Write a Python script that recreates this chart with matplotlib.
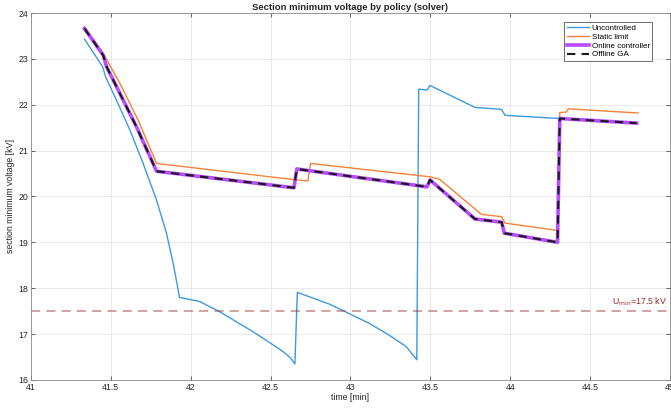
import numpy as np
import matplotlib.pyplot as plt

plt.rcParams['font.family'] = ['Liberation Sans', 'DejaVu Sans']

# Uncontrolled
t_unc = [41.335, 41.448, 41.467, 41.535, 41.619, 41.702, 41.786, 41.848, 41.89,
         41.93, 42.056, 42.18, 42.39, 42.47, 42.577, 42.625, 42.652, 42.667,
         42.87, 42.99, 43.12, 43.24, 43.348, 43.415, 43.427, 43.479, 43.498,
         43.78, 43.946, 43.967, 44.306, 44.8]
v_unc = [23.43, 22.83, 22.61, 22.10, 21.45, 20.72, 19.92, 19.20, 18.54,
         17.80, 17.71, 17.49, 17.05, 16.87, 16.62, 16.48, 16.35, 17.91,
         17.65, 17.45, 17.23, 16.98, 16.73, 16.44, 22.34, 22.32, 22.42,
         21.94, 21.90, 21.77, 21.70, 21.60]

# Static limit
t_sta = [41.335, 41.452, 41.556, 41.67, 41.786, 42.64, 42.733, 42.75, 43.494,
         43.556, 43.82, 43.946, 43.967, 44.296, 44.31, 44.35, 44.365, 44.8]
v_sta = [23.70, 23.12, 22.47, 21.67, 20.72, 20.37, 20.34, 20.72, 20.43,
         20.38, 19.61, 19.56, 19.42, 19.26, 21.83, 21.84, 21.91, 21.82]

# Online controller / Offline GA (identical)
t_onl = [41.335, 41.452, 41.473, 41.556, 41.66, 41.786, 42.646, 42.664, 43.479,
         43.498, 43.779, 43.946, 43.963, 44.296, 44.31, 44.79]
v_onl = [23.66, 23.08, 22.83, 22.25, 21.52, 20.55, 20.19, 20.60, 20.21,
         20.36, 19.51, 19.44, 19.20, 19.00, 21.70, 21.60]
t_ga = t_onl
v_ga = v_onl

u_min = 17.5

fig = plt.figure(figsize=(6.71, 4.13), dpi=100)
ax = fig.add_axes([0.0462, 0.080, 0.9523, 0.8885])

ax.plot(t_unc, v_unc, color='#3d9ae2', lw=1.0, label='Uncontrolled')
ax.plot(t_sta, v_sta, color='#f5823a', lw=1.0, label='Static limit')
ax.plot(t_onl, v_onl, color='#b84cff', lw=2.6, label='Online controller')
ax.plot(t_ga, v_ga, color='#1a1a1a', lw=1.5, ls=(0, (4, 3)), label='Offline GA')
ax.axhline(u_min, color='#a03a3a', alpha=0.6, lw=1.1, ls=(0, (6, 4)))
ax.text(44.98, u_min + 0.07, r'U$_{\mathrm{min}}$=17.5 kV', color='#9b2a2a',
        fontsize=6.3, ha='right', va='bottom')

ax.set_xlim(41, 45)
ax.set_ylim(16, 24)
ax.set_xticks([41, 41.5, 42, 42.5, 43, 43.5, 44, 44.5, 45])
ax.set_xticklabels(['41', '41.5', '42', '42.5', '43', '43.5', '44', '44.5', '45'])
ax.set_yticks(range(16, 25))
ax.tick_params(direction='in', length=3, width=0.6, labelsize=6.3,
               top=True, right=True, colors='#4d4d4d', labelcolor='#262626', pad=2)
ax.grid(True, color='#e6e6e6', lw=0.6)
for s in ax.spines.values():
    s.set_color('#8a8a8a')
    s.set_linewidth(0.6)

ax.set_xlabel('time [min]', fontsize=6.3, labelpad=1, color='#262626')
ax.set_ylabel('section minimum voltage [kV]', fontsize=6.3, labelpad=2, color='#262626')
ax.set_title('Section minimum voltage by policy (solver)', fontsize=6.8,
             fontweight='bold', pad=2, color='#262626')

leg = ax.legend(loc='upper right', bbox_to_anchor=(0.972, 0.976), borderaxespad=0,
                fontsize=5.8, fancybox=False, framealpha=1,
                edgecolor='#555555', borderpad=0.3, labelspacing=0.15,
                handlelength=2.8, handletextpad=0.3)
leg.get_frame().set_linewidth(0.6)

fig.savefig('out.png', dpi=100)
